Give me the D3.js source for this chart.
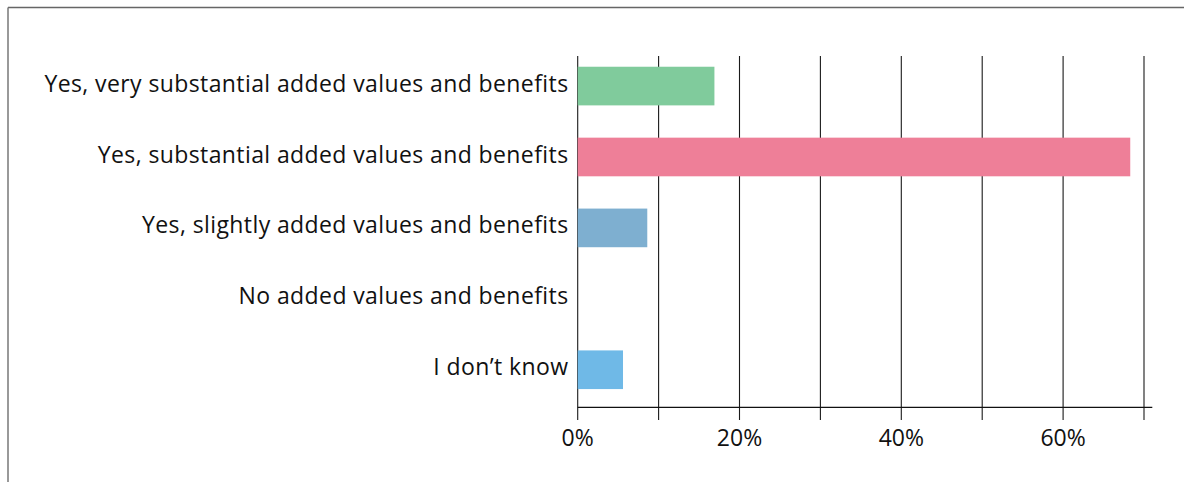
<!DOCTYPE html>
<html>
<head>
<meta charset="utf-8">
<script src="https://cdn.jsdelivr.net/npm/d3@7/dist/d3.min.js"></script>
<style>
  html, body { margin: 0; padding: 0; background: #fff; }
  svg { display: block; }
  text { font-family: "Open Sans", "Noto Sans", sans-serif; fill: #111; }
</style>
</head>
<body>
<svg id="chart" width="1184" height="482"></svg>
<script>
// Survey answers, top to bottom
const categories = [
  "Yes, very substantial added values and benefits",
  "Yes, substantial added values and benefits",
  "Yes, slightly added values and benefits",
  "No added values and benefits",
  "I don\u2019t know"
];
// Share of respondents (%)
const shares = [16.9, 68.3, 8.6, 0, 5.6];
const barColors = ["#80cb9c", "#ee7f98", "#7eafd0", "#7eafd0", "#6fb9e7"];
// Grid every 10 %, labels every 20 %
const gridTicks = [0, 10, 20, 30, 40, 50, 60, 70];
const labelTicks = [0, 20, 40, 60];

const svg = d3.select("#chart");

// outer frame (top and left edges)
svg.append("line").attr("x1", 8).attr("x2", 1184).attr("y1", 7.5).attr("y2", 7.5)
  .attr("stroke", "#666").attr("stroke-width", 1.5);
svg.append("line").attr("x1", 8).attr("x2", 8).attr("y1", 7.5).attr("y2", 482)
  .attr("stroke", "#777").attr("stroke-width", 1.5);

const x = d3.scaleLinear().domain([0, 70]).range([577.7, 1144]);
const y = d3.scaleBand().domain(categories).range([50.6, 405.2]).paddingInner(0.455).paddingOuter(0.2275);

const gridTop = 56, axisY = 407.3, tickBottom = 420;

// vertical grid lines with ticks below the axis
svg.append("g").selectAll("line").data(gridTicks).join("line")
  .attr("x1", d => x(d)).attr("x2", d => x(d))
  .attr("y1", gridTop).attr("y2", tickBottom)
  .attr("stroke", "#1a1a1a").attr("stroke-width", 1.1);

// bars
svg.append("g").selectAll("rect").data(categories).join("rect")
  .attr("x", x(0))
  .attr("y", d => y(d))
  .attr("width", (d, i) => x(shares[i]) - x(0))
  .attr("height", y.bandwidth())
  .attr("fill", (d, i) => barColors[i]);

// baseline of the x axis
svg.append("line").attr("x1", x(0)).attr("x2", 1152.3).attr("y1", axisY).attr("y2", axisY)
  .attr("stroke", "#111").attr("stroke-width", 1.2);

// category labels
svg.append("g").selectAll("text").data(categories).join("text")
  .attr("x", 568.5)
  .attr("y", d => y(d) + y.bandwidth() / 2)
  .attr("dy", "0.24em")
  .attr("text-anchor", "end")
  .style("font-size", "23px")
  .style("letter-spacing", "0.4px")
  .text(d => d);

// percentage labels
svg.append("g").selectAll("text").data(labelTicks).join("text")
  .attr("x", d => x(d))
  .attr("y", 437.5)
  .attr("dy", "0.35em")
  .attr("text-anchor", "middle")
  .style("font-size", "23px")
  .text(d => d + "%");
</script>
</body>
</html>
